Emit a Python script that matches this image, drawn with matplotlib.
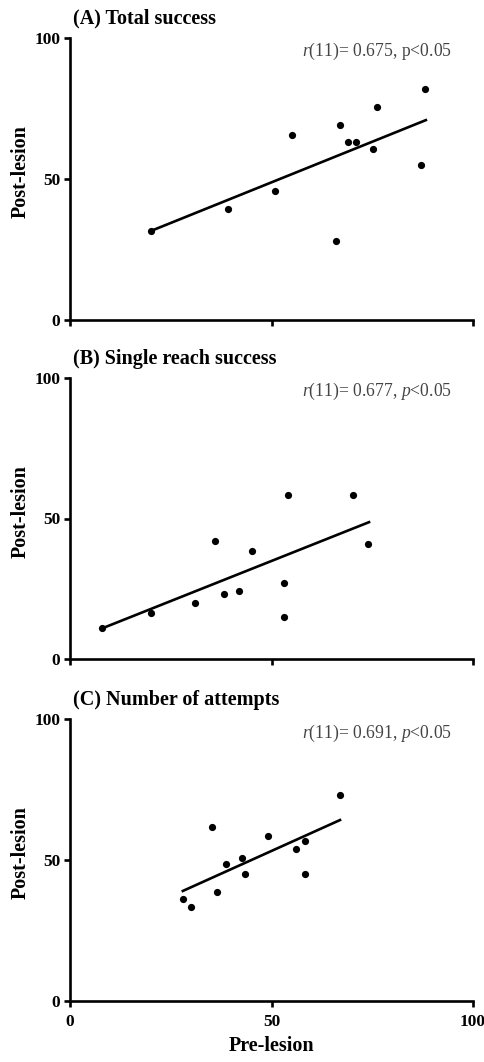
import matplotlib
matplotlib.use("Agg")
import matplotlib.pyplot as plt

plt.rcParams['font.family'] = ['Liberation Serif', 'DejaVu Serif']
plt.rcParams['mathtext.fontset'] = 'custom'
plt.rcParams['mathtext.it'] = 'Liberation Serif:italic'
plt.rcParams['mathtext.rm'] = 'Liberation Serif'

# Panel A: Total success
a_pre = [20.0, 39.1, 50.9, 55.1, 66.0, 67.0, 69.1, 71.0, 75.1, 76.1, 87.1, 88.1]
a_post = [31.5, 39.4, 45.6, 65.4, 28.1, 69.0, 62.9, 62.9, 60.5, 75.4, 54.9, 81.8]
a_fit_x = [20.0, 88.3]
a_fit_y = [31.5, 70.8]

# Panel B: Single reach success
b_pre = [8.0, 20.0, 31.1, 36.1, 38.1, 42.0, 45.1, 53.1, 53.1, 54.1, 70.1, 74.0]
b_post = [11.0, 16.5, 20.0, 41.9, 23.1, 24.1, 38.4, 27.0, 15.1, 58.4, 58.4, 40.9]
b_fit_x = [8.0, 74.2]
b_fit_y = [11.0, 48.7]

# Panel C: Number of attempts
c_pre = [28.0, 30.1, 35.3, 36.4, 38.8, 42.8, 43.4, 49.1, 56.2, 58.4, 58.2, 67.0]
c_post = [36.0, 33.4, 61.6, 38.5, 48.6, 50.6, 45.0, 58.7, 54.0, 56.7, 45.0, 73.1]
c_fit_x = [28.0, 67.0]
c_fit_y = [39.0, 64.2]

titles = ["(A) Total success", "(B) Single reach success", "(C) Number of attempts"]
stats = [r"$\mathit{r}$(11)= 0.675, p<0.05",
         r"$\mathit{r}$(11)= 0.677, $\mathit{p}$<0.05",
         r"$\mathit{r}$(11)= 0.691, $\mathit{p}$<0.05"]
ticks = [0, 50, 100]

fig = plt.figure(figsize=(4.85, 10.62), dpi=100)
W, H = 485, 1062
boxes = [(37.7, 320.0), (377.7, 659.3), (719.3, 1000.7)]
data = [(a_pre, a_post, a_fit_x, a_fit_y),
        (b_pre, b_post, b_fit_x, b_fit_y),
        (c_pre, c_post, c_fit_x, c_fit_y)]

for i, ((top, bot), (px, py, fx, fy)) in enumerate(zip(boxes, data)):
    hgt = bot - top
    ax = fig.add_axes([70 / W, 1 - bot / H, (473 - 70) / W, hgt / H])
    ax.scatter(px, py, s=27, color='black', zorder=3, clip_on=False, linewidths=0)
    ax.plot(fx, fy, color='black', lw=1.9)
    ax.set_xlim(0, 100)
    ax.set_ylim(0, 100)
    ax.set_xticks(ticks)
    ax.set_yticks(ticks)
    for s in ['top', 'right']:
        ax.spines[s].set_visible(False)
    for s in ['left', 'bottom']:
        ax.spines[s].set_linewidth(1.9)
    ax.tick_params(direction='out', length=4.5, width=1.9, labelsize=12.5)
    ax.tick_params(axis='y', pad=2.5)
    ax.tick_params(axis='x', pad=5)
    for lab in ax.get_yticklabels() + ax.get_xticklabels():
        lab.set_fontweight('bold')
    if i < 2:
        ax.tick_params(axis='x', labelbottom=False)
    else:
        ax.set_xlabel("Pre-lesion", fontsize=14.5, fontweight='bold', labelpad=4.5)
    ax.set_ylabel("Post-lesion", fontsize=14.5, fontweight='bold', labelpad=2.5)
    ax.yaxis.label.set_y(0.525)
    ax.text(0.007, 1 + 14.0 / hgt, titles[i], transform=ax.transAxes, fontsize=14.5,
            fontweight='bold', ha='left', va='baseline')
    ax.text(0.948, 0.95, stats[i], transform=ax.transAxes, fontsize=12.7,
            color='#444444', ha='right', va='center')

fig.savefig("out.png", dpi=100)
